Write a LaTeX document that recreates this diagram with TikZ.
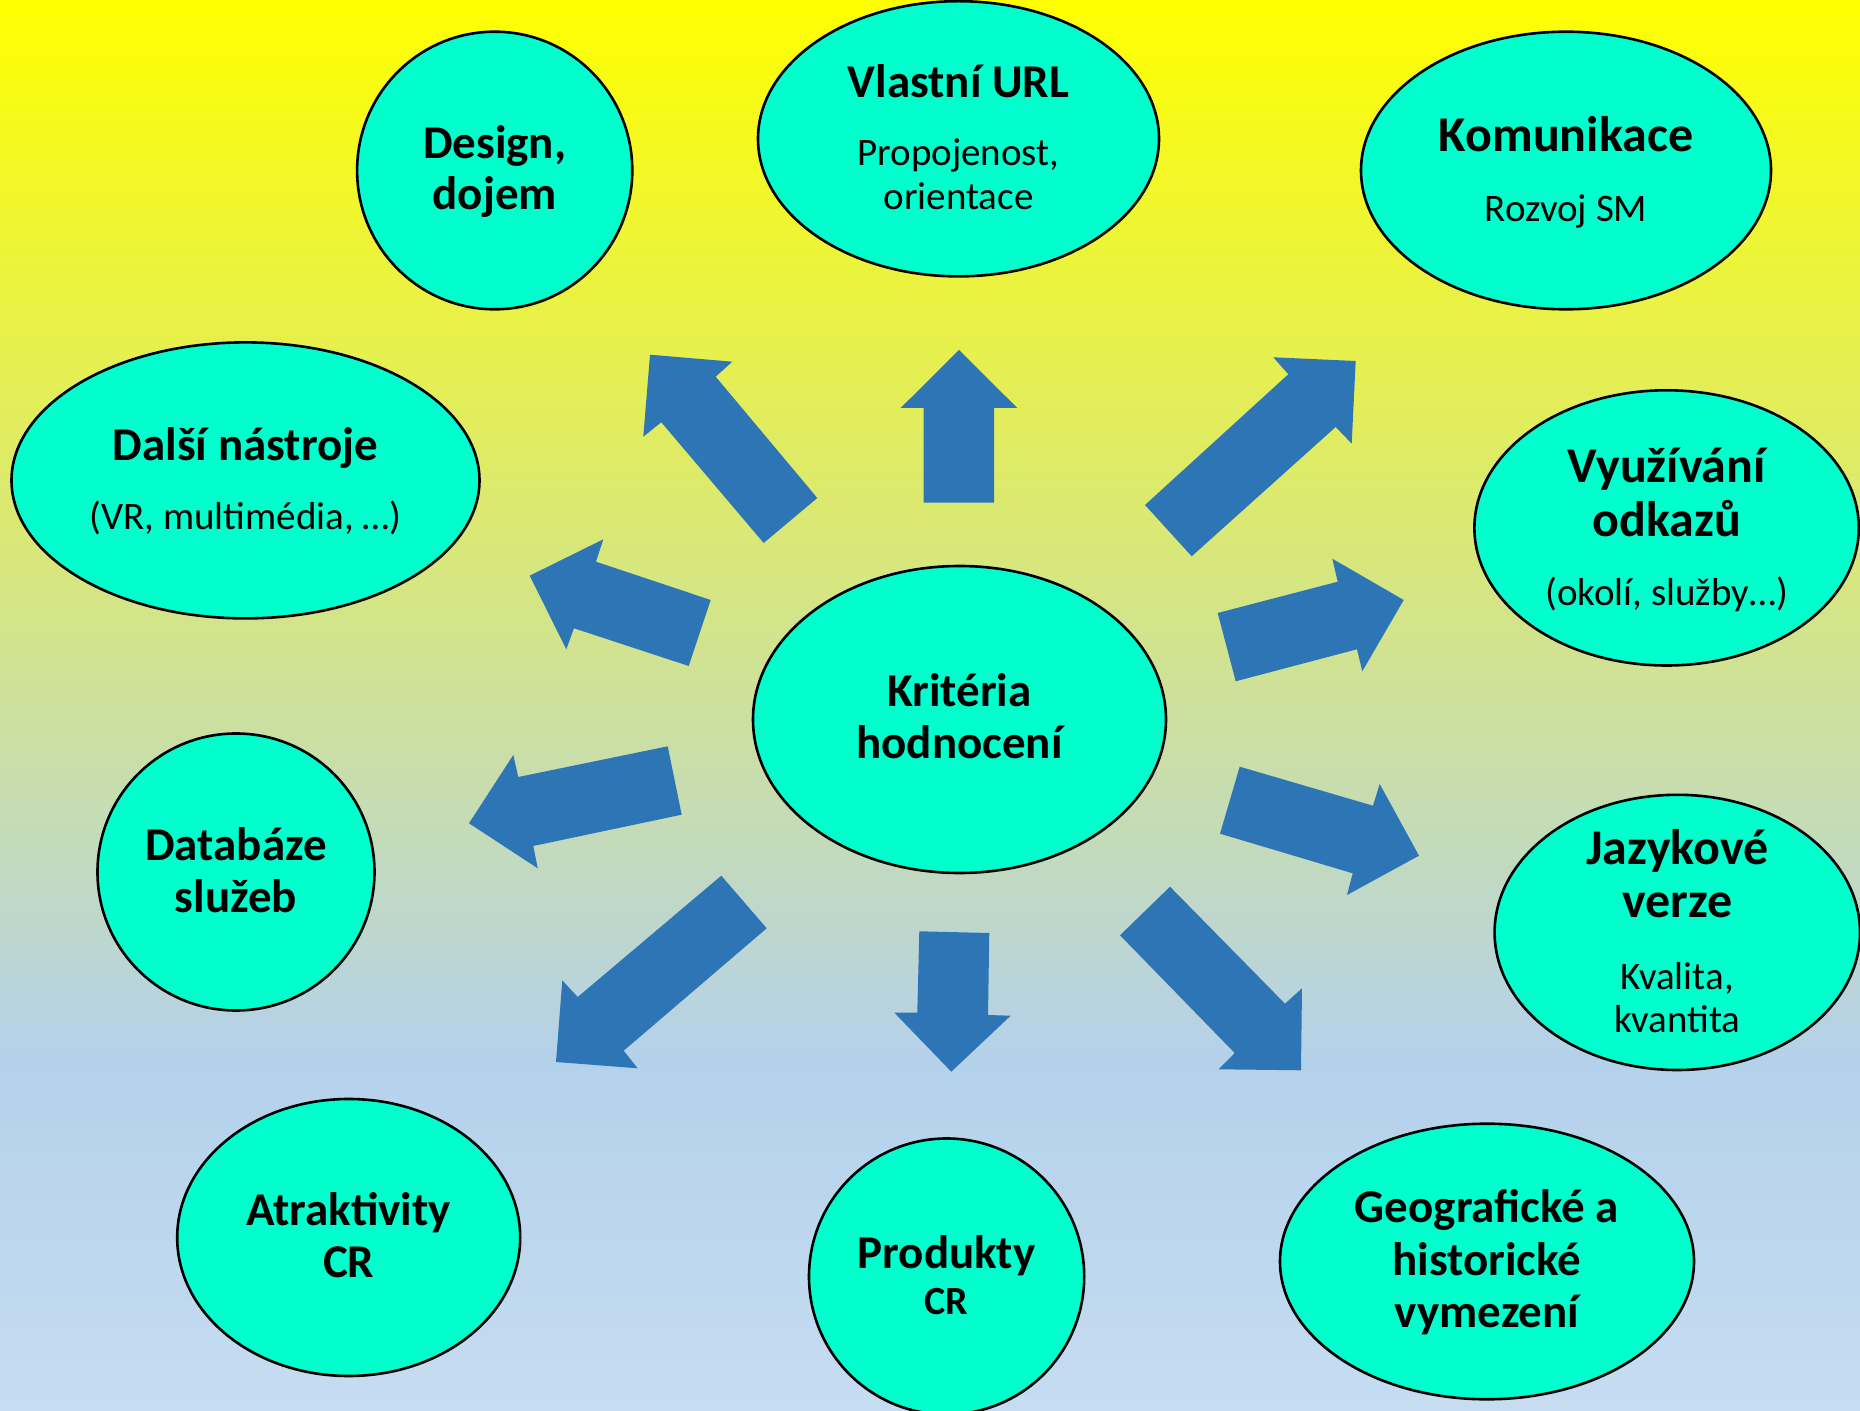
\documentclass[tikz,border=0pt]{standalone}
\usepackage{fontspec}
\setmainfont{Carlito}
\usetikzlibrary{shapes.geometric}
\definecolor{bubblecol}{RGB}{0,255,204}
\definecolor{arrowblue}{RGB}{46,117,182}
\definecolor{bgtop}{RGB}{255,255,0}
\definecolor{bgmid}{RGB}{180,209,235}
\definecolor{bgbot}{RGB}{198,220,241}
\begin{document}
\begin{tikzpicture}[x=0.5pt,y=-0.5pt,
  bubble/.style={ellipse, draw=black, line width=1.3pt, fill=bubblecol, inner sep=0pt},
  hd/.style={anchor=base, inner sep=0pt, font=\fontsize{23.5pt}{28pt}\selectfont\bfseries},
  hdbig/.style={anchor=base, inner sep=0pt, font=\fontsize{25pt}{30pt}\selectfont\bfseries},
  hdsmall/.style={anchor=base, inner sep=0pt, font=\fontsize{20pt}{24pt}\selectfont\bfseries},
  sub/.style={anchor=base, inner sep=0pt, font=\fontsize{19.5pt}{23pt}\selectfont},
  blockarrow/.style={fill=arrowblue}]
\useasboundingbox (0,0) rectangle (1860,1411);
\shade[top color=bgtop, bottom color=bgmid] (0,0) rectangle (1860,1061);
\shade[top color=bgmid, bottom color=bgbot] (0,1060) rectangle (1860,1411);

% block arrows
\fill[blockarrow] (650,354.7) -- (732.3,361.7) -- (715.7,376.7) -- (817.3,498) -- (763.7,543) -- (661.3,422.3) -- (643.3,436.7) -- cycle;
\fill[blockarrow] (959,350) -- (1017.3,408) -- (994,408) -- (994,502.7) -- (923.7,502.7) -- (923.7,408) -- (900.7,408) -- cycle;
\fill[blockarrow] (1355.7,361) -- (1351.7,443.7) -- (1335.7,427) -- (1191.7,556.3) -- (1145,505) -- (1288.3,374.3) -- (1273.3,357.3) -- cycle;
\fill[blockarrow] (529.7,575.7) -- (603.3,539.3) -- (596,561.7) -- (710.7,600) -- (688.7,666) -- (574,628.3) -- (566.3,649.3) -- cycle;
\fill[blockarrow] (1403.7,600) -- (1362.3,671.3) -- (1357,649.3) -- (1235.7,681.3) -- (1217.7,613) -- (1337.7,581.7) -- (1332.3,558.7) -- cycle;
\fill[blockarrow] (469,823.3) -- (513.3,755) -- (518.3,777) -- (667.7,746.3) -- (681.7,814.7) -- (533.3,846) -- (537.7,868.3) -- cycle;
\fill[blockarrow] (1419,855.7) -- (1347,895) -- (1352.7,873.3) -- (1220,833.7) -- (1239.7,766.7) -- (1373,805.7) -- (1379.7,784) -- cycle;
\fill[blockarrow] (556,1062) -- (562.3,980.3) -- (577.7,997) -- (721.3,875.7) -- (766.7,928.3) -- (623.7,1050.7) -- (637.7,1068.3) -- cycle;
\fill[blockarrow] (951.3,1071.7) -- (894.3,1012.7) -- (917.3,1012.7) -- (919.3,931.3) -- (989.3,933) -- (988,1015) -- (1010.7,1015.7) -- cycle;
\fill[blockarrow] (1301,1070.3) -- (1218.7,1069.3) -- (1234.7,1053) -- (1120,935.3) -- (1170,886.7) -- (1285,1003.7) -- (1302,988.3) -- cycle;

% bubbles
\node[bubble, minimum width=275.2pt*0.5, minimum height=277.6pt*0.5] (design) at (494.7,170.5) {};
\node[bubble, minimum width=401pt*0.5, minimum height=275.2pt*0.5] (url) at (958.5,138.8) {};
\node[bubble, minimum width=410pt*0.5, minimum height=277.6pt*0.5] (kom) at (1566,170.5) {};
\node[bubble, minimum width=468pt*0.5, minimum height=276pt*0.5] (dalsi) at (245.5,480.4) {};
\node[bubble, minimum width=384.4pt*0.5, minimum height=275.2pt*0.5] (vyuz) at (1666.6,527.9) {};
\node[bubble, minimum width=413pt*0.5, minimum height=307pt*0.5] (krit) at (959.5,719.5) {};
\node[bubble, minimum width=277pt*0.5, minimum height=277pt*0.5] (db) at (236,872) {};
\node[bubble, minimum width=365.4pt*0.5, minimum height=275.2pt*0.5] (jaz) at (1677.3,932.4) {};
\node[bubble, minimum width=343pt*0.5, minimum height=277pt*0.5] (atr) at (348.7,1237.5) {};
\node[bubble, minimum width=275.2pt*0.5, minimum height=276pt*0.5] (prod) at (946.6,1276.5) {};
\node[bubble, minimum width=414pt*0.5, minimum height=275.6pt*0.5] (geo) at (1487,1261.5) {};

% texts
\node[hd] (design1) at (494.7,159) {Design,};
\node[hd] (design2) at (494.7,210) {dojem};
\node[hd] (url1) at (958.5,98) {Vlastní URL};
\node[sub] (url2) at (958.5,166) {Propojenost,};
\node[sub] (url3) at (958.5,210) {orientace};
\node[hdbig] (kom1) at (1566,152) {Komunikace};
\node[sub] (kom2) at (1566,222) {Rozvoj SM};
\node[hd] (dalsi1) at (245.5,461) {Další nástroje};
\node[sub] (dalsi2) at (245.5,530) {(VR, multimédia, …)};
\node[hdbig] (vyuz1) at (1666.6,483) {Využívání};
\node[hdbig] (vyuz2) at (1666.6,537) {odkazů};
\node[sub] (vyuz3) at (1666.6,606) {(okolí, služby…)};
\node[hd] (krit1) at (959.5,707) {Kritéria};
\node[hd] (krit2) at (959.5,759) {hodnocení};
\node[hd] (db1) at (236,860.5) {Databáze};
\node[hd] (db2) at (236,912.5) {služeb};
\node[hdbig] (jaz1) at (1677.3,865) {Jazykové};
\node[hdbig] (jaz2) at (1677.3,918) {verze};
\node[sub] (jaz3) at (1677.3,990) {Kvalita,};
\node[sub] (jaz4) at (1677.3,1032.5) {kvantita};
\node[hd] (atr1) at (348.7,1225.7) {Atraktivity};
\node[hd] (atr2) at (348.7,1277.5) {CR};
\node[hd] (prod1) at (946.6,1268.6) {Produkty};
\node[hdsmall] (prod2) at (946.6,1314) {CR};
\node[hd] (geo1) at (1487,1222) {Geografické a};
\node[hd] (geo2) at (1487,1275) {historické};
\node[hd] (geo3) at (1487,1327) {vymezení};
\end{tikzpicture}
\end{document}
